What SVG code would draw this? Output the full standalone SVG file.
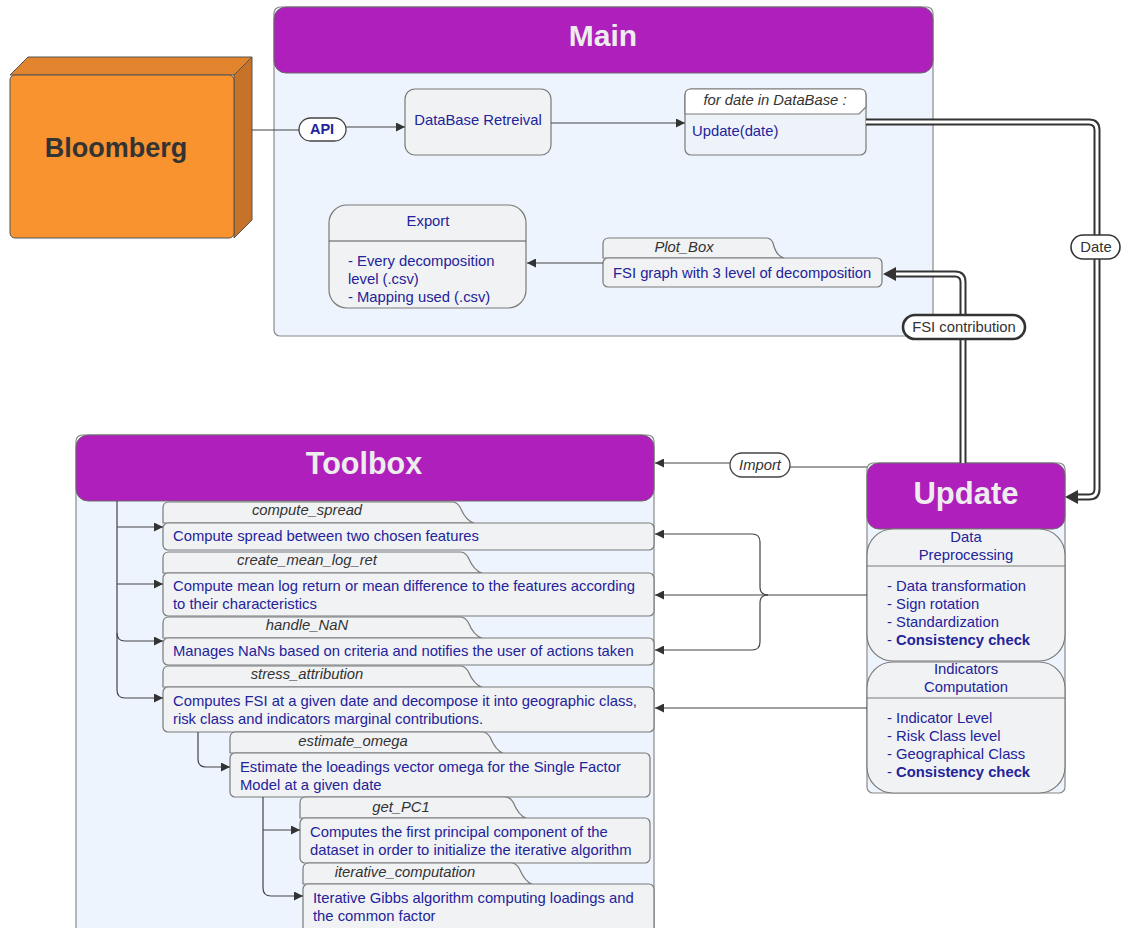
<svg xmlns="http://www.w3.org/2000/svg" width="1122" height="928" viewBox="0 0 1122 928">
<defs>
<style>
text{font-family:"Liberation Sans",Arial,sans-serif;}
.ctr{fill:#EDF4FD;stroke:#8a8a8a;stroke-width:1.2}
.hdr{fill:#AE1FBC;stroke:#6a6a6a;stroke-width:1}
.htxt{font-weight:bold;fill:#EDEDED;text-anchor:middle}
.node{fill:#F1F2F4;stroke:#7a7a7a;stroke-width:1.2}
.t{font-size:14.8px;fill:#23239B}
.c{text-anchor:middle}
.lbl{font-size:14.8px;font-style:italic;fill:#333}
.ln{fill:none;stroke:#444;stroke-width:1.2}
.dbl{fill:none;stroke:#333;stroke-width:7}
.dblw{fill:none;stroke:#fff;stroke-width:3}
.pill{fill:#fff;stroke:#444;stroke-width:1.3}
.ah{fill:#333}
</style>
<marker id="arr" viewBox="0 0 10 10" refX="10" refY="5" markerWidth="11" markerHeight="9" markerUnits="userSpaceOnUse" orient="auto">
<path d="M0 0 L10 5 L0 10 Z" fill="#333"/>
</marker>
</defs>
<rect width="1122" height="928" fill="#fff"/>

<g id="bloomberg">
<path d="M10 75 L28 57 H252 L234 75 Z" fill="#E2842D" stroke="#555" stroke-width="1"/>
<path d="M234 75 L252 57 V220 L234 238 Z" fill="#C67228" stroke="#555" stroke-width="1"/>
<rect x="10" y="75" width="224" height="163" rx="5" fill="#F89330" stroke="#555" stroke-width="1"/>
<text x="116" y="157" font-size="27" font-weight="bold" fill="#333" text-anchor="middle">Bloomberg</text>
</g>

<g id="main">
<rect class="ctr" x="274" y="7" width="659" height="329" rx="6"/>
<rect class="hdr" x="274" y="7" width="659" height="66" rx="12"/>
<text class="htxt" x="603" y="46" font-size="30">Main</text>
</g>

<g id="toolbox">
<rect class="ctr" x="76" y="435" width="578" height="510" rx="6"/>
<rect class="hdr" x="76" y="435" width="578" height="66" rx="12"/>
<text class="htxt" x="364" y="474" font-size="30.5">Toolbox</text>
</g>

<g id="update">
<rect class="ctr" x="867" y="463" width="198" height="330" rx="6"/>
<rect class="hdr" x="867" y="463" width="198" height="66" rx="12"/>
<text class="htxt" x="966" y="504" font-size="31">Update</text>
</g>

<g id="data-preprocessing">
<rect class="node" x="867" y="529" width="198" height="132" rx="26"/>
<line x1="867" y1="566" x2="1065" y2="566" stroke="#7a7a7a" stroke-width="1.2"/>
<text class="t c" x="966" y="542">Data</text>
<text class="t c" x="966" y="560">Preprocessing</text>
<text class="t" x="887" y="591">- Data transformation</text>
<text class="t" x="887" y="609">- Sign rotation</text>
<text class="t" x="887" y="627">- Standardization</text>
<text class="t" x="887" y="645">- <tspan font-weight="bold">Consistency check</tspan></text>
</g>

<g id="indicators-computation">
<rect class="node" x="867" y="662" width="198" height="131" rx="26"/>
<line x1="867" y1="698" x2="1065" y2="698" stroke="#7a7a7a" stroke-width="1.2"/>
<text class="t c" x="966" y="674">Indicators</text>
<text class="t c" x="966" y="692">Computation</text>
<text class="t" x="887" y="723">- Indicator Level</text>
<text class="t" x="887" y="741">- Risk Class level</text>
<text class="t" x="887" y="759">- Geographical Class</text>
<text class="t" x="887" y="777">- <tspan font-weight="bold">Consistency check</tspan></text>
</g>

<g id="database-retreival">
<rect class="node" x="405" y="89" width="146" height="66" rx="10"/>
<text class="t c" x="478" y="125">DataBase Retreival</text>
</g>

<g id="for-date">
<rect x="685" y="89" width="181" height="66" rx="6" fill="#EEF3FA" stroke="#7a7a7a" stroke-width="1.2"/>
<path d="M685 114 V95 Q685 89 691 89 H860 Q866 89 866 95 V107 L859 114 Z" fill="#fff" stroke="#7a7a7a" stroke-width="1.2"/>
<text class="lbl c" x="775" y="105">for date in DataBase :</text>
<text class="t" x="692" y="136">Update(date)</text>
</g>

<g id="export">
<rect class="node" x="329" y="205" width="197" height="103" rx="18"/>
<line x1="329" y1="241" x2="526" y2="241" stroke="#555" stroke-width="1.2"/>
<text class="t c" x="428" y="226">Export</text>
<text class="t" x="348" y="266">- Every decomposition</text>
<text class="t" x="348" y="284">level (.csv)</text>
<text class="t" x="348" y="302">- Mapping used (.csv)</text>
</g>

<g id="plot-box">
<path class="node" d="M603 258 V244 Q603 238 609 238 H766 Q771 238 773 243 Q776 256 784 258 Z"/>
<rect class="node" x="603" y="258" width="279" height="29" rx="5"/>
<text class="lbl c" x="684" y="252">Plot_Box</text>
<text class="t" x="613" y="278">FSI graph with 3 level of decomposition</text>
</g>

<g id="compute-spread">
<path class="node" d="M163 523 V508 Q163 502 169 502 H452 Q457 502 460 507 Q466 521 474 523 Z"/>
<rect class="node" x="163" y="523" width="491" height="27" rx="5"/>
<text class="lbl c" x="307" y="515">compute_spread</text>
<text class="t" x="173" y="541">Compute spread between two chosen features</text>
</g>

<g id="create-mean-log-ret">
<path class="node" d="M163 573 V558 Q163 552 169 552 H460 Q465 552 468 557 Q474 571 482 573 Z"/>
<rect class="node" x="163" y="573" width="491" height="43" rx="5"/>
<text class="lbl c" x="307" y="565">create_mean_log_ret</text>
<text class="t" x="173" y="591">Compute mean log return or mean difference to the features according</text>
<text class="t" x="173" y="609">to their characteristics</text>
</g>

<g id="handle-nan">
<path class="node" d="M163 638 V623 Q163 617 169 617 H460 Q465 617 468 622 Q474 636 482 638 Z"/>
<rect class="node" x="163" y="638" width="491" height="27" rx="5"/>
<text class="lbl c" x="307" y="630">handle_NaN</text>
<text class="t" x="173" y="656">Manages NaNs based on criteria and notifies the user of actions taken</text>
</g>

<g id="stress-attribution">
<path class="node" d="M163 687 V672 Q163 666 169 666 H460 Q465 666 468 671 Q474 685 482 687 Z"/>
<rect class="node" x="163" y="687" width="491" height="45" rx="5"/>
<text class="lbl c" x="307" y="679">stress_attribution</text>
<text class="t" x="173" y="706">Computes FSI at a given date and decompose it into geographic class,</text>
<text class="t" x="173" y="724">risk class and indicators marginal contributions.</text>
</g>

<g id="estimate-omega">
<path class="node" d="M230 753 V738 Q230 732 236 732 H482 Q487 732 490 737 Q496 751 503 753 Z"/>
<rect class="node" x="230" y="753" width="420" height="44" rx="5"/>
<text class="lbl c" x="353" y="746">estimate_omega</text>
<text class="t" x="240" y="772">Estimate the loeadings vector omega for the Single Factor</text>
<text class="t" x="240" y="790">Model at a given date</text>
</g>

<g id="get-pc1">
<path class="node" d="M300 818 V803 Q300 797 306 797 H505 Q510 797 513 802 Q519 816 526 818 Z"/>
<rect class="node" x="300" y="818" width="350" height="45" rx="5"/>
<text class="lbl c" x="401" y="812">get_PC1</text>
<text class="t" x="310" y="837">Computes the first principal component of the</text>
<text class="t" x="310" y="855">dataset in order to initialize the iterative algorithm</text>
</g>

<g id="iterative-computation">
<path class="node" d="M303 884 V869 Q303 863 309 863 H511 Q516 863 519 868 Q525 882 532 884 Z"/>
<rect class="node" x="303" y="884" width="351" height="50" rx="5"/>
<text class="lbl c" x="405" y="877">iterative_computation</text>
<text class="t" x="313" y="903">Iterative Gibbs algorithm computing loadings and</text>
<text class="t" x="313" y="921">the common factor</text>
</g>

<g id="connectors">
<path class="ln" d="M252 130 H299"/>
<path class="ln" d="M346 127 H405" marker-end="url(#arr)"/>
<path class="ln" d="M551 123 H685" marker-end="url(#arr)"/>
<path class="ln" d="M603 263 H527" marker-end="url(#arr)"/>

<path class="dbl" d="M866 122 H1089 Q1097 122 1097 130 V489 Q1097 497 1089 497 H1074"/>
<path class="dblw" d="M866 122 H1089 Q1097 122 1097 130 V489 Q1097 497 1089 497 H1074"/>
<polygon class="ah" points="1065,497 1078,490 1078,504"/>

<path class="dbl" d="M963 463 V282 Q963 274 955 274 H893"/>
<path class="dblw" d="M963 463 V282 Q963 274 955 274 H893"/>
<polygon class="ah" points="883,274 896,267 896,281"/>

<path class="ln" d="M867 467 H790"/>
<path class="ln" d="M730 463 H655" marker-end="url(#arr)"/>
<path class="ln" d="M867 595 H655" marker-end="url(#arr)"/>
<path class="ln" d="M768 595 Q760 595 760 587 V542 Q760 534 752 534 H655" marker-end="url(#arr)"/>
<path class="ln" d="M768 595 Q760 595 760 603 V642 Q760 650 752 650 H655" marker-end="url(#arr)"/>
<path class="ln" d="M867 708 H655" marker-end="url(#arr)"/>

<path class="ln" d="M117 501 V690 Q117 698 125 698 H163" marker-end="url(#arr)"/>
<path class="ln" d="M117 527 H163" marker-end="url(#arr)"/>
<path class="ln" d="M117 584 H163" marker-end="url(#arr)"/>
<path class="ln" d="M117 633 Q117 641 125 641 H163" marker-end="url(#arr)"/>
<path class="ln" d="M198 732 V759 Q198 767 206 767 H230" marker-end="url(#arr)"/>
<path class="ln" d="M263 797 V888 Q263 896 271 896 H303" marker-end="url(#arr)"/>
<path class="ln" d="M263 830 H300" marker-end="url(#arr)"/>

<rect class="pill" x="299" y="118" width="47" height="23" rx="11.5"/>
<text x="322" y="134" font-size="14.5" font-weight="bold" fill="#23239B" text-anchor="middle">API</text>

<rect x="1071" y="235" width="49" height="24" rx="12" fill="#fff" stroke="#333" stroke-width="1.6"/>
<text x="1096" y="252" font-size="14.8" fill="#333" text-anchor="middle">Date</text>

<rect x="903" y="315" width="122" height="24" rx="12" fill="#fff" stroke="#333" stroke-width="2.6"/>
<text x="964" y="332" font-size="14.8" fill="#333" text-anchor="middle">FSI contribution</text>

<rect class="pill" x="730" y="453" width="60" height="24" rx="12"/>
<text x="760" y="470" font-size="14.8" font-style="italic" fill="#333" text-anchor="middle">Import</text>
</g>
</svg>
